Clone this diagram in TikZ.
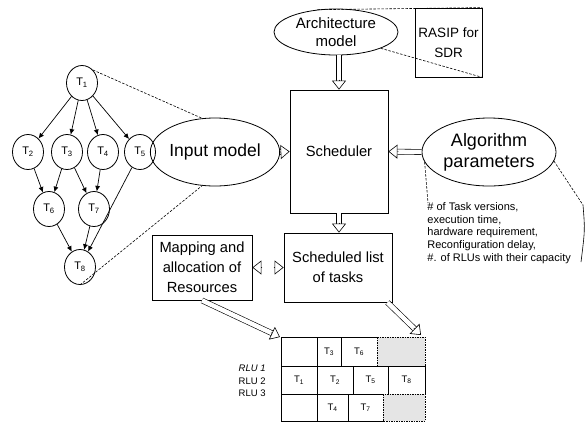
\documentclass[tikz,border=0pt]{standalone}
\usepackage{fontspec}
\setmainfont{Liberation Sans}
\usetikzlibrary{arrows.meta,shapes.geometric,calc}
\newcommand\fs[2]{\fontsize{#1bp}{#2bp}\selectfont}
\newcommand\hollowarrow[2]{%
  \draw[hshaft, shorten >=6bp] (#1) -- (#2);
  \draw[htip] ($(#2)!10bp!(#1)$) -- (#2);}
\begin{document}
\begin{tikzpicture}[x=1bp,y=-1bp,line width=0.8bp,
  tnode/.style={draw, ellipse, minimum width=31bp, minimum height=35bp, inner sep=0pt, font=\fs{11}{12}},
  dag/.style={-{Latex[length=5.5bp,width=5bp]}, line width=0.7bp},
  callout/.style={dash pattern=on 2.5bp off 1.5bp, line width=0.6bp},
  bigell/.style={draw, ellipse, inner sep=0pt, align=center},
  box/.style={draw, rectangle, inner sep=0pt, align=center, font=\fs{14.7}{20}},
  hshaft/.style={draw, double=white, double distance=4.5bp, line width=0.6bp},
  htip/.style={line width=0.6bp, -{Triangle[length=9bp,width=14bp,fill=white]}},
  cellst/.style={draw, line width=0.7bp},
  freecell/.style={draw, fill=gray!20, dash pattern=on 1.5bp off 1bp, line width=0.7bp},
  celltext/.style={font=\fs{9.5}{11}, inner sep=0pt},
  rlu/.style={font=\fs{9.5}{11}, anchor=east, inner sep=0pt}
]
\useasboundingbox (0,0) rectangle (585,421);

% task graph
\node[tnode] (t1) at (82,83) {T\textsubscript{1}};
\node[tnode] (t2) at (28,152) {T\textsubscript{2}};
\node[tnode] (t3) at (67,152) {T\textsubscript{3}};
\node[tnode] (t4) at (103,152) {T\textsubscript{4}};
\node[tnode] (t5) at (140,152) {T\textsubscript{5}};
\node[tnode] (t6) at (49,209) {T\textsubscript{6}};
\node[tnode] (t7) at (94,209) {T\textsubscript{7}};
\node[tnode] (t8) at (80,267) {T\textsubscript{8}};
\draw[dag] (t1) -- (t2);
\draw[dag] (t1) -- (t3);
\draw[dag] (t1) -- (t4);
\draw[dag] (t1) -- (t5);
\draw[dag] (t2) -- (t6);
\draw[dag] (t3) -- (t6);
\draw[dag] (t3) -- (t7);
\draw[dag] (t4) -- (t7);
\draw[dag] (t6) -- (t8);
\draw[dag] (t7) -- (t8);
\draw[dag] (t5) -- (t8);

% main nodes
\node[bigell, minimum width=114bp, minimum height=68bp, font=\fs{17.5}{21}] (input) at (215,152) {Input model};
\node[bigell, minimum width=124bp, minimum height=46bp, font=\fs{15}{18.5}] (arch) at (336,32) {Architecture\\model};
\node[box, minimum width=67bp, minimum height=69bp, font=\fs{13.5}{20}] (rasip) at (448.5,42.5) {RASIP for\\SDR};
\node[box, minimum width=98bp, minimum height=123bp] (sched) at (339,151.5) {Scheduler};
\node[bigell, minimum width=134bp, minimum height=68bp, font=\fs{18}{21}] (alg) at (489,152) {Algorithm\\parameters};
\node[box, minimum width=108bp, minimum height=69bp] (slist) at (338,267.5) {Scheduled list\\of tasks};
\node[box, minimum width=100bp, minimum height=65bp] (map) at (202,267.5) {Mapping and\\allocation of\\Resources};
\node[anchor=north west, inner sep=0pt, align=left, font=\fs{11}{12.75}] (params) at (427,202)
  {\# of Task versions,\\execution time,\\hardware requirement,\\Reconfiguration delay,\\\#. of RLUs with their capacity};

% callout lines
\draw[callout] (t1.50) -- (input.111);
\draw[callout] (t8.south) -- (input.249);
\draw[callout] (arch.130) -- (rasip.north east);
\draw[callout] (arch.-20) -- (rasip.south east);
\coordinate (pl) at (428,203);
\coordinate (pr) at (583,205);
\coordinate (pe) at (581,262);
\draw[callout] (alg.189) -- (pl);
\draw[callout] (alg.-8) -- (pr);
\draw[line width=0.6bp] (pr) .. controls (585,230) .. (pe);

% hollow arrows
\coordinate (a1) at (arch.south -| sched.north);
\hollowarrow{a1}{sched.north}
\hollowarrow{input.east}{sched.west}
\hollowarrow{alg.west}{sched.east}
\coordinate (a2) at (sched.south |- slist.north);
\hollowarrow{sched.south}{a2}
\draw[hshaft, shorten >=6bp, shorten <=6bp] (map.east) -- (slist.west);
\draw[htip] ($(slist.west)!10bp!(map.east)$) -- (slist.west);
\draw[htip] ($(map.east)!10bp!(slist.west)$) -- (map.east);
\coordinate (gtl) at (280,337);
\coordinate (s2) at ($(slist.south east)+(-5,0)$);
\coordinate (gtr) at (421,335);
\hollowarrow{map.south}{gtl}
\hollowarrow{s2}{gtr}

% schedule grid
\draw[cellst] (281,337) rectangle (317,366);
\draw[cellst] (317,337) rectangle (341,366);
\draw[cellst] (341,337) rectangle (377,366);
\draw[freecell] (377,337) rectangle (425,366);
\draw[cellst] (281,366) rectangle (317,394);
\draw[cellst] (317,366) rectangle (353,394);
\draw[cellst] (353,366) rectangle (388,394);
\draw[cellst] (388,366) rectangle (425,394);
\draw[cellst] (281,394) rectangle (317,421);
\draw[cellst] (317,394) rectangle (348,421);
\draw[cellst] (348,394) rectangle (383,421);
\draw[freecell] (383,394) rectangle (425,421);
\node[celltext] (c3) at (329,351.5) {T\textsubscript{3}};
\node[celltext] (c6) at (359,351.5) {T\textsubscript{6}};
\node[celltext] (c1) at (299,380) {T\textsubscript{1}};
\node[celltext] (c2) at (335,380) {T\textsubscript{2}};
\node[celltext] (c5) at (370.5,380) {T\textsubscript{5}};
\node[celltext] (c8) at (406.5,380) {T\textsubscript{8}};
\node[celltext] (c4) at (332.5,407.5) {T\textsubscript{4}};
\node[celltext] (c7) at (365.5,407.5) {T\textsubscript{7}};
\node[rlu] (r1) at (266,368) {\itshape RLU 1};
\node[rlu] (r2) at (266,381) {RLU 2};
\node[rlu] (r3) at (266,393) {RLU 3};
\end{tikzpicture}
\end{document}
